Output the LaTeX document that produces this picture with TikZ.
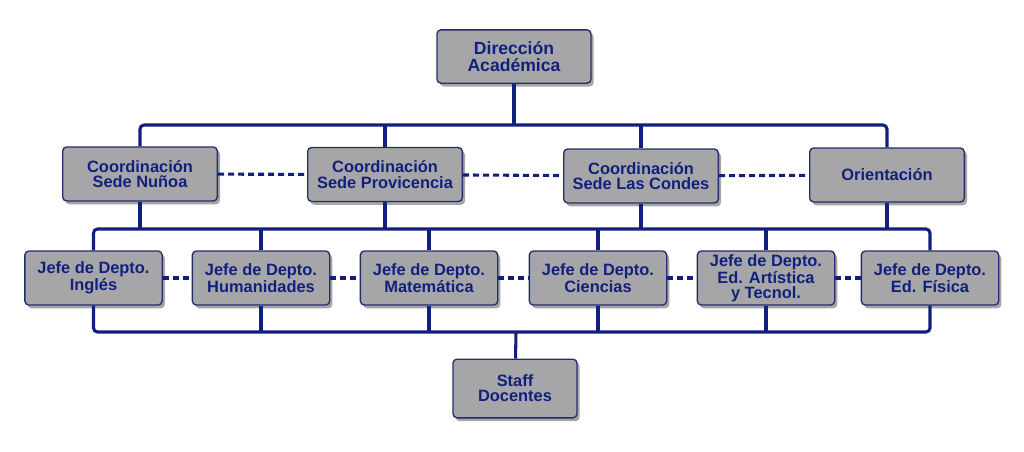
\documentclass[tikz,border=0pt]{standalone}
\usepackage{fontspec}
\setmainfont{Liberation Sans}
\usetikzlibrary{shadows}
\definecolor{navy}{RGB}{18,32,125}
\definecolor{boxgray}{RGB}{166,166,169}
\definecolor{edge}{RGB}{35,45,105}
\begin{document}
\begin{tikzpicture}[x=0.75pt,y=-0.75pt,
    box/.style={rectangle, rounded corners=3pt, draw=edge, line width=1pt, fill=boxgray,
      text=navy, align=center, font=\fontsize{12.3}{11.4}\selectfont\bfseries,
      minimum height=40.5pt, inner sep=2pt,
      drop shadow={shadow xshift=2pt, shadow yshift=-2.5pt, opacity=0.35, fill=black}},
    coord/.style={box, minimum width=116pt},
    jefe/.style={box, minimum width=103pt},
    conn/.style={draw=navy, line width=2.3pt},
    dots/.style={draw=navy, line width=2.3pt, dash pattern=on 4.5pt off 3pt}]
  \useasboundingbox (0,0) rectangle (1024,451);
  \node[box, minimum width=115.5pt, minimum height=40pt, font=\fontsize{13.2}{12.2}\selectfont\bfseries] (dir) at (514,56.5) {Dirección\\Académica};
  \node[coord] (nun) at (140,174) {Coordinación\\Sede Nuñoa};
  \node[coord] (prov) at (385,174.5) {Coordinación\\Sede Provicencia};
  \node[coord] (cond) at (641,176) {Coordinación\\Sede Las Condes};
  \node[coord] (ori) at (887,175) {Orientación};
  \foreach \nm/\x/\txt in {ing/93.5/{Jefe de Depto.\\Inglés}, hum/261/{Jefe de Depto.\\Humanidades},
      mat/429/{Jefe de Depto.\\Matemática}, cie/598/{Jefe de Depto.\\Ciencias},
      art/766/{Jefe de Depto.\\Ed. Artística\\y Tecnol.}, fis/930/{Jefe de Depto.\\Ed. Física}}{
    \node[jefe] (\nm) at (\x,278) {\txt};
  }
  \node[box, minimum width=93pt, minimum height=44pt] (staff) at (515,388.5) {Staff\\Docentes};
  % buses
  \coordinate (b1) at (514,125);
  \coordinate (b2) at (514,229);
  \coordinate (b3) at (516,332);
  \draw[conn] (dir) -- (b1);
  \draw[conn, rounded corners=3pt] (nun.north) |- (b1) -| (ori.north);
  \foreach \nm in {prov,cond}
    \draw[conn] (\nm.north) -- (\nm.north |- b1);
  \foreach \nm in {nun,prov,cond,ori}
    \draw[conn] (\nm.south) -- (\nm.south |- b2);
  \draw[conn, rounded corners=3pt] (ing.north) |- (b2) -| (fis.north);
  \foreach \nm in {hum,mat,cie,art}
    \draw[conn] (\nm.north) -- (\nm.north |- b2);
  \draw[conn, rounded corners=3pt] (ing.south) |- (b3) -| (fis.south);
  \foreach \nm in {hum,mat,cie,art}
    \draw[conn] (\nm.south) -- (\nm.south |- b3);
  \draw[conn] (b3) -- (staff);
  % dotted links
  \draw[dots] (nun) -- (prov) -- (cond) -- (ori);
  \draw[dots] (ing) -- (hum) -- (mat) -- (cie) -- (art) -- (fis);
\end{tikzpicture}
\end{document}
